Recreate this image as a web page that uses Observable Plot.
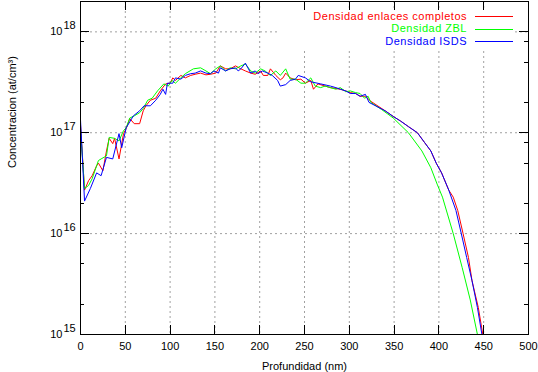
<!DOCTYPE html>
<html><head><meta charset="utf-8">
<script src="https://cdn.jsdelivr.net/npm/d3@7"></script>
<script src="https://cdn.jsdelivr.net/npm/@observablehq/plot@0.6"></script>
<style>
body{margin:0;background:#fff;}
#wrap{position:relative;width:538px;height:372px;font-family:"Liberation Sans",Arial,sans-serif;}
#legend{position:absolute;left:278px;top:10px;}
</style></head><body><div id="wrap"></div>
<script>
// Series: Densidad enlaces completos (red)
const depthRed = [0,4.5,9,13,18,20,25,29,32,36,38,43,48,51,55,60,66,70,73,78,84,89,95,100,103,106,112,117,123,128,134,140,145,151,156,162,167,173,179,184,190,195,201,204,209,212,218,223,226,229,234,240,246,251,257,260,265,273,279,290,296,301,307,312,318,324,340,349,357,366,376,384,391,397,403,411,416,421,427,433,437,444,449,452];
const concRed = [1.2e17,2.7e16,3.35e16,3.75e16,4.7e16,5.0e16,4.2e16,6.6e16,8.8e16,7.8e16,8.8e16,5.5e16,9.8e16,1.1e17,1.38e17,1.23e17,1.23e17,1.65e17,1.85e17,2.1e17,2.2e17,2.6e17,3.05e17,3.1e17,3.5e17,3.3e17,3.7e17,3.5e17,3.7e17,3.8e17,3.9e17,3.75e17,3.8e17,3.9e17,4.6e17,4.3e17,4.3e17,4.6e17,4.3e17,4.1e17,3.9e17,3.8e17,4.1e17,3.7e17,3.7e17,4.3e17,3.7e17,3.35e17,3.5e17,3.9e17,3.5e17,3.35e17,3.4e17,3.1e17,3.3e17,2.7e17,3.05e17,2.9e17,2.8e17,2.7e17,2.6e17,2.5e17,2.45e17,2.3e17,2.3e17,2.05e17,1.65e17,1.45e17,1.31e17,1.15e17,1.0e17,8.0e16,6.6e16,5.0e16,4.0e16,2.7e16,2.3e16,1.7e16,1.0e16,5.8e15,3.4e15,1.85e15,1.0e15,7e14];

// Series: Densidad ZBL (green)
const depthZBL = [0,4.5,9,13,20,23,29,32,38,43,48,51,55,60,66,70,75,80,86,93,98,102,106,112,117,126,134,140,145,151,156,162,167,173,179,184,190,195,201,206,212,218,223,229,234,240,246,251,257,262,268,273,285,290,296,301,307,312,317,321,324,336,349,366,381,391,398,404,416,426,435,443,445];
const concZBL = [1.1e17,2.8e16,3.0e16,3.5e16,5.3e16,5.5e16,5.9e16,9.0e16,8.8e16,8.3e16,1.05e17,1.12e17,1.4e17,1.47e17,1.58e17,1.74e17,2.1e17,2.2e17,2.6e17,3.05e17,2.9e17,3.3e17,3.1e17,3.5e17,3.85e17,4.3e17,4.4e17,4.1e17,3.85e17,4.3e17,4.6e17,4.1e17,4.4e17,4.3e17,4.6e17,4.8e17,4.1e17,3.9e17,4.3e17,4.1e17,3.7e17,4.1e17,3.7e17,4.3e17,3.4e17,3.4e17,3.1e17,3.1e17,3.5e17,2.9e17,2.8e17,2.9e17,2.7e17,2.8e17,2.55e17,2.6e17,2.5e17,2.45e17,2.2e17,2.3e17,2.0e17,1.7e17,1.4e17,1.0e17,6.6e16,4.5e16,3.1e16,2.3e16,1.0e16,4.6e15,2.2e15,1.0e15,8e14];

// Series: Densidad ISDS (blue)
const depthISDS = [0,4.5,11,18,23,29,36,43,46,51,59,66,71,78,84,89,92,95,97,103,106,112,117,123,128,134,140,145,149,154,156,162,167,173,176,179,184,190,195,198,203,209,214,220,223,229,234,240,243,251,257,268,279,285,290,296,301,307,312,318,322,340,349,357,366,376,384,391,397,403,411,419,425,431,437,443,448,450];
const concISDS = [1.35e17,2.1e16,2.8e16,4.0e16,3.75e16,5.7e16,5.5e16,9.8e16,7.1e16,1.12e17,1.47e17,1.65e17,1.85e17,1.85e17,2.1e17,2.4e17,2.7e17,2.4e17,3.1e17,3.1e17,3.5e17,3.4e17,3.7e17,3.85e17,3.9e17,4.1e17,3.9e17,3.85e17,4.1e17,3.9e17,4.4e17,4.1e17,4.3e17,4.4e17,4.1e17,4.3e17,4.9e17,3.9e17,4.1e17,3.85e17,4.1e17,3.9e17,3.7e17,3.3e17,2.9e17,3.0e17,3.3e17,3.4e17,3.7e17,3.5e17,3.2e17,3.05e17,2.9e17,2.8e17,2.7e17,2.6e17,2.45e17,2.45e17,2.3e17,2.4e17,2.0e17,1.65e17,1.45e17,1.31e17,1.15e17,1.0e17,8.0e16,6.6e16,5.0e16,4.0e16,2.7e16,1.7e16,1.0e16,5.8e15,3.4e15,1.85e15,1.0e15,7e14];

const seriesNames = ["Densidad enlaces completos","Densidad ZBL","Densidad ISDS"];
const seriesColors = ["#ff0000","#00ff00","#0000ff"];

const xTicks = [0,50,100,150,200,250,300,350,400,450,500];
const xGrid = [50,100,150,200,250,300,350,400,450];
const yMajor = [1e15,1e16,1e17,1e18];
const yMinor = [2e15,5e15,8e15,2e16,5e16,8e16,2e17,5e17,8e17];
const xLabel = "Profundidad (nm)";
const yLabel = "Concentracion (at/cm\u00B3)";

const W = 538, H = 372, mL = 80, mR = 10, mT = 1, mB = 38;
const pw = W - mL - mR, ph = H - mT - mB;

const toRows = (xs, ys) => xs.map((d, i) => ({depth: d, conc: ys[i]}));
const rows = [toRows(depthRed, concRed), toRows(depthZBL, concZBL), toRows(depthISDS, concISDS)];

const plot = Plot.plot({
  width: W, height: H,
  marginLeft: mL, marginRight: mR, marginTop: mT, marginBottom: mB,
  style: {fontFamily: "'Liberation Sans', Arial, sans-serif", fontSize: "11px", background: "white", color: "black", overflow: "visible"},
  x: {domain: [0, 500], axis: null},
  y: {type: "log", domain: [1e15, 2e18], axis: null},
  marks: [
    Plot.ruleX(xGrid, {x: d => d, stroke: "#a0a0a0", strokeDasharray: "2,3"}),
    Plot.ruleY(yMajor.slice(1), {y: d => d, stroke: "#a0a0a0", strokeDasharray: "2,3"}),
    ...rows.map((r, i) => Plot.line(r, {x: "depth", y: "conc", stroke: seriesColors[i], strokeWidth: 1, clip: true})),
    Plot.tickX(xTicks, {x: d => d, insetTop: ph - 9, stroke: "black", shapeRendering: "crispEdges"}),
    Plot.tickX(xTicks, {x: d => d, insetBottom: ph - 9, stroke: "black", shapeRendering: "crispEdges"}),
    Plot.tickY(yMajor, {y: d => d, insetRight: pw - 9, stroke: "black", shapeRendering: "crispEdges"}),
    Plot.tickY(yMajor, {y: d => d, insetLeft: pw - 9, stroke: "black", shapeRendering: "crispEdges"}),
    Plot.tickY(yMinor, {y: d => d, insetRight: pw - 4, stroke: "black", shapeRendering: "crispEdges"}),
    Plot.tickY(yMinor, {y: d => d, insetLeft: pw - 4, stroke: "black", shapeRendering: "crispEdges"}),
    Plot.frame({stroke: "black", shapeRendering: "crispEdges"}),
    Plot.text(xTicks, {x: d => d, frameAnchor: "bottom", dy: 15, text: d => String(d), fill: "black"}),
    Plot.text(yMajor, {y: d => d, frameAnchor: "left", dx: -18, dy: 0, textAnchor: "end", text: () => "10", fill: "black"}),
    Plot.text(yMajor, {y: d => d, frameAnchor: "left", dx: -17, dy: -6, textAnchor: "start", text: d => String(Math.round(Math.log10(d))), fill: "black"}),
    Plot.text([xLabel], {frameAnchor: "bottom", dy: 35, text: d => d, fill: "black"}),
    Plot.text([yLabel], {frameAnchor: "left", dx: -68, rotate: -90, text: d => d, fill: "black"})
  ]
});

const wrap = document.getElementById("wrap");
wrap.appendChild(plot);

// Legend (gnuplot key, top right, blanks the grid behind it)
const lg = d3.select(wrap).append("svg").attr("id", "legend")
  .attr("width", 237).attr("height", 38)
  .style("font-family", "'Liberation Sans', Arial, sans-serif").style("font-size", "11px");
lg.append("rect").attr("width", 237).attr("height", 38).attr("fill", "white");
seriesNames.forEach((name, i) => {
  const y = 6 + i * 12.5;
  lg.append("text").attr("x", 189).attr("y", y).attr("dy", "0.35em")
    .attr("text-anchor", "end").attr("fill", seriesColors[i])
    .style("letter-spacing", "0.5px").text(name);
  const ly = Math.round(y) + 0.5;
  lg.append("line").attr("x1", 197).attr("x2", 235).attr("y1", ly).attr("y2", ly)
    .attr("stroke", seriesColors[i]).attr("stroke-width", 1)
    .attr("shape-rendering", "crispEdges");
});
</script></body></html>
